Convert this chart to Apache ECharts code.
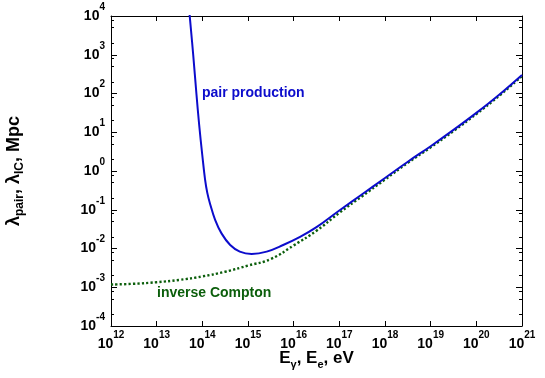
<!DOCTYPE html>
<html lang="en">
<head>
    <meta charset="UTF-8">
    <title>pair production / inverse Compton</title>
    <script src="https://cdn.jsdelivr.net/npm/echarts@6/dist/echarts.min.js"></script>
</head>
<body style="margin:0">
<div id="box" style="width:545px;height:378px;"></div>
<script type="text/javascript">
    // log10 of energy (eV) and log10 of length (Mpc)
    let pairLogE = [13.72, 13.80, 13.87, 13.93, 14.00, 14.06, 14.11, 14.17, 14.28, 14.42, 14.61, 14.82, 15.08, 15.41, 15.77, 16.14, 16.5, 17.0, 17.5, 18.0, 18.5, 19.0, 19.5, 20.0, 20.5, 21.0];
    let pairLogL = [4.05, 3.0, 2.0, 1.2, 0.4, -0.22, -0.57, -0.85, -1.26, -1.61, -1.91, -2.08, -2.14, -2.08, -1.91, -1.70, -1.45, -1.02, -0.60, -0.18, 0.24, 0.64, 1.06, 1.50, 1.97, 2.48];

    let icLogE = [12.0, 12.5, 13.0, 13.5, 14.0, 14.5, 15.0, 15.5, 16.0, 16.5, 17.0, 17.5, 18.0, 18.5, 19.0, 19.5, 20.0, 20.5, 21.0];
    let icLogL = [-2.93, -2.91, -2.87, -2.81, -2.72, -2.60, -2.44, -2.27, -1.92, -1.54, -1.08, -0.65, -0.22, 0.21, 0.61, 1.03, 1.47, 1.94, 2.45];

    let minorMantissa = [2, 5, 8];
    let yDecades = [-4, -3, -2, -1, 0, 1, 2, 3];

    let font = '"Liberation Sans", Arial, Helvetica, sans-serif';

    let pairData = pairLogE.map((e, i) => [Math.pow(10, e), Math.pow(10, pairLogL[i])]);
    let icData = icLogE.map((e, i) => [Math.pow(10, e), Math.pow(10, icLogL[i])]);

    let minorY = [];
    yDecades.forEach(d => minorMantissa.forEach(m => minorY.push(m * Math.pow(10, d))));

    let richPow = {
        b: {fontSize: 14, fontWeight: 'bold', fontFamily: font, color: '#000', lineHeight: 14, verticalAlign: 'bottom'},
        s: {fontSize: 10, fontWeight: 'bold', fontFamily: font, color: '#000', lineHeight: 10, verticalAlign: 'bottom', padding: [0, 0, 11, 0]}
    };
    function powLabel(v) {
        let e = Math.round(Math.log10(v));
        return '{b|10}{s|' + e + '}';
    }

    let line = {show: true, lineStyle: {color: '#000', width: 1}};

    let chart = echarts.init(document.getElementById('box'));
    chart.setOption({
        animation: false,
        grid: {left: 111, right: 23, top: 16, bottom: 52, outerBoundsMode: 'none'},
        xAxis: [
            {
                type: 'log', logBase: 10, min: 1e12, max: 1e21, interval: 1,
                position: 'bottom',
                axisLine: line,
                axisTick: {inside: true, length: 5, lineStyle: {color: '#000'}},
                axisLabel: {formatter: powLabel, rich: richPow, margin: 11},
                splitLine: {show: false},
                name: '{n|E}{sub|γ}{n|, E}{sub|e}{n|, eV}',
                nameLocation: 'middle', nameGap: 24, nameMoveOverlap: false,
                nameTextStyle: {
                    rich: {
                        n: {fontSize: 17, fontWeight: 'bold', fontFamily: font, color: '#000', lineHeight: 17, verticalAlign: 'top'},
                        sub: {fontSize: 11, fontWeight: 'bold', fontFamily: font, color: '#000', lineHeight: 11, verticalAlign: 'top', padding: [9, 0, 0, 0]}
                    }
                }
            },
            {
                type: 'log', logBase: 10, min: 1e12, max: 1e21, interval: 1,
                position: 'top',
                axisLine: line,
                axisTick: {inside: true, length: 5, lineStyle: {color: '#000'}},
                axisLabel: {show: false},
                splitLine: {show: false}
            }
        ],
        yAxis: [
            {
                type: 'log', logBase: 10, min: 1e-4, max: 1e4, interval: 1,
                position: 'left',
                axisLine: line,
                axisTick: {inside: true, length: 6, lineStyle: {color: '#000'}},
                axisLabel: {formatter: powLabel, rich: richPow, margin: 6},
                splitLine: {show: false},
                name: '{n|λ}{sub|pair}{n|, λ}{sub|IC}{n|, Mpc}',
                nameLocation: 'middle', nameRotate: 90, nameGap: 88, nameMoveOverlap: false,
                nameTextStyle: {
                    rich: {
                        n: {fontSize: 18, fontWeight: 'bold', fontFamily: font, color: '#000', lineHeight: 18, verticalAlign: 'top'},
                        sub: {fontSize: 12, fontWeight: 'bold', fontFamily: font, color: '#000', lineHeight: 12, verticalAlign: 'top', padding: [9, 0, 0, 0]}
                    }
                }
            },
            {
                type: 'log', logBase: 10, min: 1e-4, max: 1e4,
                position: 'left',
                axisLine: {show: false},
                axisTick: {inside: true, length: 3, customValues: minorY, lineStyle: {color: '#000'}},
                axisLabel: {show: false},
                splitLine: {show: false}
            },
            {
                type: 'log', logBase: 10, min: 1e-4, max: 1e4, interval: 1,
                position: 'right',
                axisLine: line,
                axisTick: {inside: true, length: 6, lineStyle: {color: '#000'}},
                axisLabel: {show: false},
                splitLine: {show: false}
            },
            {
                type: 'log', logBase: 10, min: 1e-4, max: 1e4,
                position: 'right',
                axisLine: {show: false},
                axisTick: {inside: true, length: 3, customValues: minorY, lineStyle: {color: '#000'}},
                axisLabel: {show: false},
                splitLine: {show: false}
            }
        ],
        series: [
            {
                name: 'inverse Compton',
                type: 'line',
                data: icData,
                smooth: true,
                showSymbol: false,
                lineStyle: {color: '#0b5e0b', width: 2.4, type: [2.2, 2.2]}
            },
            {
                name: 'pair production',
                type: 'line',
                data: pairData,
                smooth: 0.4,
                showSymbol: false,
                lineStyle: {color: '#0c0ccc', width: 2}
            }
        ],
        graphic: [
            {type: 'text', left: 202, top: 86, style: {text: 'pair production', fill: '#0c0ccc', font: 'bold 14px ' + font}},
            {type: 'text', left: 157, top: 286, style: {text: 'inverse Compton', fill: '#0b5e0b', font: 'bold 14px ' + font}}
        ]
    });
</script>
</body>
</html>
